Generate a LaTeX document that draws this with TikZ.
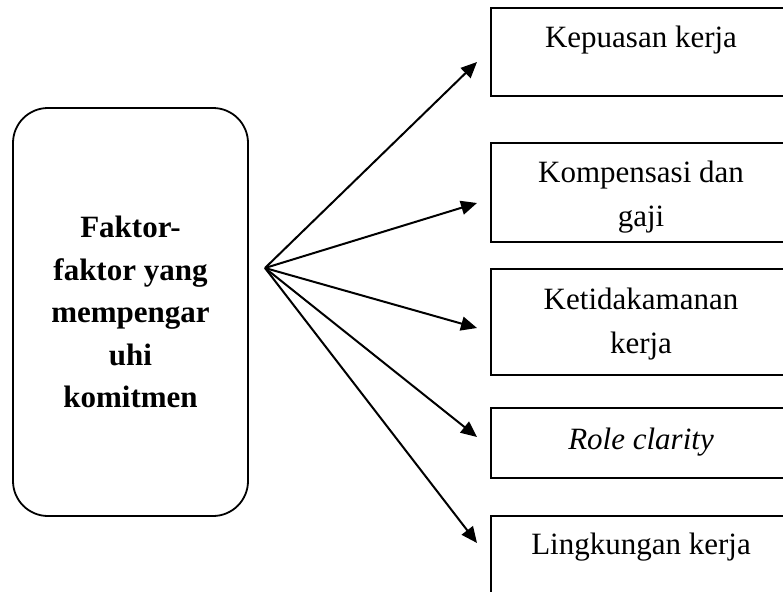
\documentclass[tikz,border=0pt]{standalone}
\usepackage{fontspec}
\setmainfont{Liberation Serif}
\usetikzlibrary{arrows.meta}

\begin{document}
\begin{tikzpicture}[x=1pt,y=-1pt,
    kotak/.style={draw,line width=1.8pt,minimum width=302pt,anchor=north west,inner sep=0pt},
    isi/.style={anchor=north,inner sep=0pt,align=center,font=\fontsize{31}{44}\selectfont},
    panah/.style={-{Triangle[length=16pt,width=14pt]},line width=2pt}]
  \useasboundingbox (0,0) rectangle (783,591);
  \clip (0,0) rectangle (783,591);
      \draw (130.5,312) node[draw,line width=1.8pt,rounded corners=35pt,minimum width=235pt,minimum height=408pt,align=center,font=\fontsize{31}{42.5}\selectfont\bfseries] (faktor) {Faktor-\\faktor yang\\mempengar\\uhi\\komitmen};

  \draw (490,7) node[kotak,minimum height=88pt] (kepuasan) {};
  \draw (490,142) node[kotak,minimum height=99pt] (kompensasi) {};
  \draw (490,268) node[kotak,minimum height=106pt] (ketidakamanan) {};
  \draw (490,407) node[kotak,minimum height=70pt] (role) {};
  \draw (490,515) node[kotak,minimum height=90pt] (lingkungan) {};

      \draw (641,26) node[isi] (tkepuasan) {Kepuasan kerja};
      \draw (641,161) node[isi] (tkompensasi) {Kompensasi dan\\gaji};
      \draw (641,288) node[isi] (tketidakamanan) {Ketidakamanan\\kerja};
      \draw (641,428) node[isi] (trole) {\itshape Role clarity};
      \draw (641,533) node[isi] (tlingkungan) {Lingkungan kerja};

  \coordinate (pusat) at (265,268);
  \coordinate (ujung1) at (477,62);
  \coordinate (ujung2) at (477,203);
  \coordinate (ujung3) at (477,328);
  \coordinate (ujung4) at (477,437);
  \coordinate (ujung5) at (477,543);

      \path[panah] (pusat) edge (ujung1);
      \path[panah] (pusat) edge (ujung2);
      \path[panah] (pusat) edge (ujung3);
      \path[panah] (pusat) edge (ujung4);
      \path[panah] (pusat) edge (ujung5);
\end{tikzpicture}
\end{document}
